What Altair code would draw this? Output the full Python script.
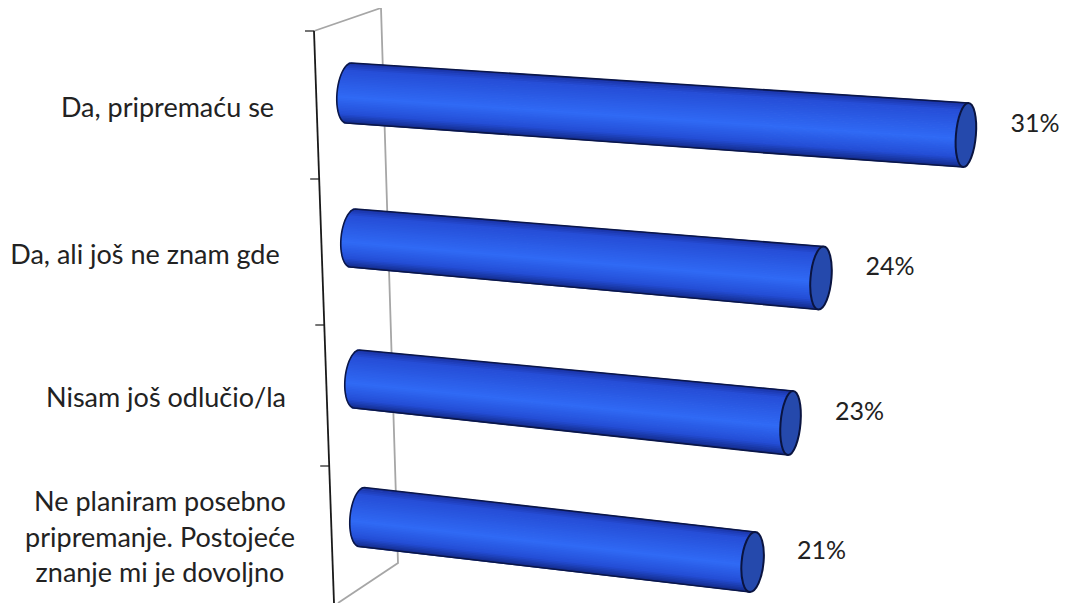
import math
import altair as alt
import pandas as pd

# Chart content
categories = ["Da, pripremaću se", "Da, ali još ne znam gde", "Nisam još odlučio/la",
              "Ne planiram posebno\npripremanje. Postojeće\nznanje mi je dovoljno"]
values = [31, 24, 23, 21]

# Perspective model of the drawing, per row
row_start_x = [349, 353, 357, 362]
row_start_y = [93, 238, 379, 517]
row_px_per_pct = [19.9, 19.5, 18.85, 18.6]
row_drop_per_pct = [1.355, 1.667, 1.91, 2.14]
row_r_start = [30, 29, 29, 29.5]
row_r_end = [32, 31.5, 32, 30]
row_rx = [10, 10.5, 10, 11]
label_x = [167.5, 145, 166, 160]
label_y = [109, 256, 399, 503]

wall_x = [314, 381, 398, 338]
wall_y = [31, 8, 563, 603]
axis_x = [314, 334]
axis_y = [31, 603]
tick_y = [31, 179, 325, 466]

W, H = 1051, 595
FONT = "Lato"
X = alt.X("x:Q", scale=alt.Scale(domain=[8, 8 + W], nice=False, zero=False), axis=None)
Y = alt.Y("y:Q", scale=alt.Scale(domain=[8 + H, 8], nice=False, zero=False), axis=None)


def project(r, pct):
    return (row_start_x[r] + row_px_per_pct[r] * pct, row_start_y[r] + row_drop_per_pct[r] * pct)


def shade(t):
    stops = [(-1.0, (24, 48, 160)), (-0.75, (38, 78, 215)), (0.15, (48, 106, 245)),
             (0.7, (36, 78, 214)), (1.0, (20, 44, 140))]
    for (a, ca), (b, cb) in zip(stops, stops[1:]):
        if a <= t <= b:
            f = (t - a) / (b - a)
            return "#%02x%02x%02x" % tuple(round(p + (q - p) * f) for p, q in zip(ca, cb))
    return "#1a3096"


BANDS = 36
TILT = 2.5
band_rows, edge_rows, end_rows = [], [], []
for r, v in enumerate(values):
    x0, y0 = project(r, 0)
    x1, y1 = project(r, v)
    R0, R1 = row_r_start[r], row_r_end[r]
    for b in range(BANDS):
        t = -1 + (2 * b + 1) / BANDS
        k = f"{r}-{b}"
        c = shade(t)
        band_rows.append(dict(x=x0 - 12 * math.sqrt(1 - t * t) - TILT * t, y=y0 + R0 * t, k=k, c=c, seq=0))
        band_rows.append(dict(x=x1 - TILT * t, y=y1 + R1 * t, k=k, c=c, seq=1))
    # outline: upper edge, left arc, lower edge
    seq = 0
    edge_rows.append(dict(x=x1 + TILT, y=y1 - R1, k=r, seq=seq))
    for i in range(25):
        seq += 1
        th = math.pi * i / 24
        t = -math.cos(th)
        edge_rows.append(dict(x=x0 - 12 * math.sin(th) - TILT * t, y=y0 + R0 * t, k=r, seq=seq))
    edge_rows.append(dict(x=x1 - TILT, y=y1 + R1, k=r, seq=seq + 1))
    end_rows.append(dict(x=x1, y=y1, r=r, label=f"{v}%"))


def ellipse_path(rx, ry, tilt):
    K = 0.5523
    def pt(a, b):  # map unit circle to the sheared ellipse, in units of ry
        return f"{(rx * a + tilt * -b) / ry:.4f},{b:.4f}"
    return ("M" + pt(0, -1)
            + "C" + pt(K, -1) + " " + pt(1, -K) + " " + pt(1, 0)
            + "C" + pt(1, K) + " " + pt(K, 1) + " " + pt(0, 1)
            + "C" + pt(-K, 1) + " " + pt(-1, K) + " " + pt(-1, 0)
            + "C" + pt(-1, -K) + " " + pt(-K, -1) + " " + pt(0, -1) + "Z")


wall = alt.Chart(pd.DataFrame({"x": wall_x, "y": wall_y, "seq": range(4)})).mark_line(
    color="#a6a6a6", strokeWidth=1.8).encode(x=X, y=Y, order="seq:Q")
axis = alt.Chart(pd.DataFrame({"x": axis_x, "y": axis_y, "seq": range(2)})).mark_line(
    color="#1a1a1a", strokeWidth=1.8).encode(x=X, y=Y, order="seq:Q")


def axis_x_at(y):
    return axis_x[0] + (axis_x[1] - axis_x[0]) * (y - axis_y[0]) / (axis_y[1] - axis_y[0])


tick_rows = []
for i, ty in enumerate(tick_y):
    ax = axis_x_at(ty)
    tick_rows += [dict(x=ax - 9, y=ty, k=i, seq=0), dict(x=ax, y=ty, k=i, seq=1)]
ticks = alt.Chart(pd.DataFrame(tick_rows)).mark_line(color="#1a1a1a", strokeWidth=1.2).encode(
    x=X, y=Y, detail="k:N", order="seq:Q")

bands = alt.Chart(pd.DataFrame(band_rows)).mark_line(strokeWidth=2.6, strokeCap="butt").encode(
    x=X, y=Y, color=alt.Color("c:N", scale=None), detail="k:N", order="seq:Q")
edges = alt.Chart(pd.DataFrame(edge_rows)).mark_line(
    color="#0a1648", strokeWidth=1.6).encode(x=X, y=Y, detail="k:N", order="seq:Q")

end_df = pd.DataFrame(end_rows)
ends = [
    alt.Chart(end_df[end_df.r == r]).mark_point(
        shape=ellipse_path(row_rx[r], row_r_end[r], TILT), size=4 * row_r_end[r] ** 2, filled=True,
        fill="#2549ac", stroke="#0a1440", strokeWidth=2, opacity=1).encode(x=X, y=Y)
    for r in range(4)
]

pct_labels = alt.Chart(end_df).mark_text(
    font=FONT, fontSize=25, color="#222222", dx=69, dy=-11, align="center", baseline="middle"
).encode(x=X, y=Y, text="label:N")

cat_labels = alt.Chart(pd.DataFrame({"x": label_x, "y": label_y, "t": categories})).mark_text(
    font=FONT, fontSize=27, color="#222222", align="center", baseline="middle",
    lineBreak="\n", lineHeight=35.5
).encode(x=X, y=Y, text="t:N")

chart = alt.layer(wall, axis, ticks, bands, edges, *ends, pct_labels, cat_labels).properties(
    width=W, height=H, padding=0, autosize=alt.AutoSizeParams(type="none"),
    background="white"
).configure_view(stroke=None)

chart.save("out.html", embed_options={"renderer": "svg", "actions": False})
